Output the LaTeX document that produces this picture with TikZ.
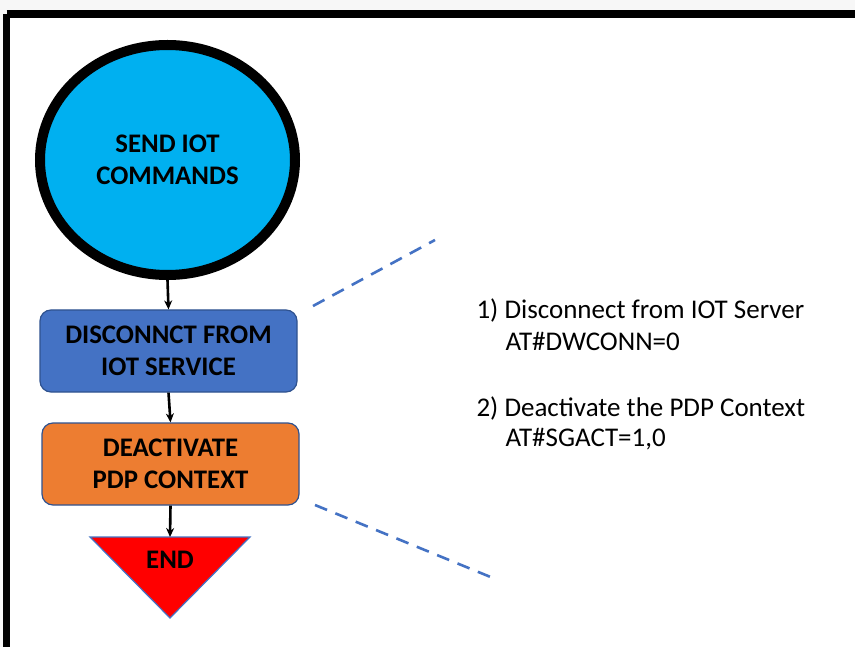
\documentclass[tikz,border=0pt]{standalone}
\usepackage{fontspec}
\setmainfont{Carlito}
\usetikzlibrary{shapes.geometric,arrows.meta}
\begin{document}
\begin{tikzpicture}[x=1pt,y=-1pt,
  lbl/.style={font=\bfseries\fontsize{26.8}{31.5}\selectfont, align=center, text=black},
  procbox/.style={draw=boxedge, line width=1.2pt, rounded corners=11pt, minimum width=257pt, minimum height=82pt, lbl},
  arr/.style={-{Stealth[length=9pt,width=8pt]}, line width=2.6pt, black},
  dashln/.style={draw=dashblue, line width=2.6pt, dash pattern=on 13pt off 9pt},
  note/.style={font=\fontsize{27}{31}\selectfont, anchor=west, align=left}
]
\definecolor{cyanfill}{HTML}{00B0F0}
\definecolor{boxblue}{HTML}{4472C4}
\definecolor{boxorange}{HTML}{ED7D31}
\definecolor{boxedge}{HTML}{2F528F}
\definecolor{dashblue}{HTML}{4472C4}
\useasboundingbox (0,0) rectangle (855,647);
\fill[white!97!black] (0,0) rectangle (855,647);
\fill[white] (7,14) rectangle (860,660);
\draw[line width=7.5pt] (6.5,14) -- (870,14) (6.5,14) -- (6.5,660);
\node[ellipse, draw=black, line width=10pt, fill=cyanfill, minimum width=255pt, minimum height=230pt, lbl] (send) at (167.5,160) {SEND IOT\\COMMANDS};
\node[procbox, fill=boxblue] (disc) at (168.5,351) {DISCONNCT FROM\\IOT SERVICE};
\node[procbox, fill=boxorange] (deact) at (170.5,464) {DEACTIVATE\\PDP CONTEXT};
\coordinate (t1) at (90,537);
\coordinate (t2) at (250,537);
\coordinate (t3) at (170,618);
\draw[draw=boxblue, line width=1.2pt, fill=red] (t1) -- (t2) -- (t3) -- cycle;
\node[lbl] (endn) at (170,560) {END};
\draw[arr] (send.south) -- (disc.north);
\draw[arr] (disc.south) -- (deact.north);
\draw[arr] (deact.south) -- (170,537);
\coordinate (d1a) at (313,306);
\coordinate (d1b) at (435,240);
\coordinate (d2a) at (315,505);
\coordinate (d2b) at (493,578);
\draw[dashln] (d1a) -- (d1b);
\draw[dashln] (d2a) -- (d2b);
\node[note] (n1) at (473,310) {1) Disconnect from IOT Server};
\node[note] (n1b) at (502,341) {AT\#DWCONN=0};
\node[note] (n2) at (473,408) {2) Deactivate the PDP Context};
\node[note] (n2b) at (502,439) {AT\#SGACT=1,0};
\end{tikzpicture}
\end{document}
